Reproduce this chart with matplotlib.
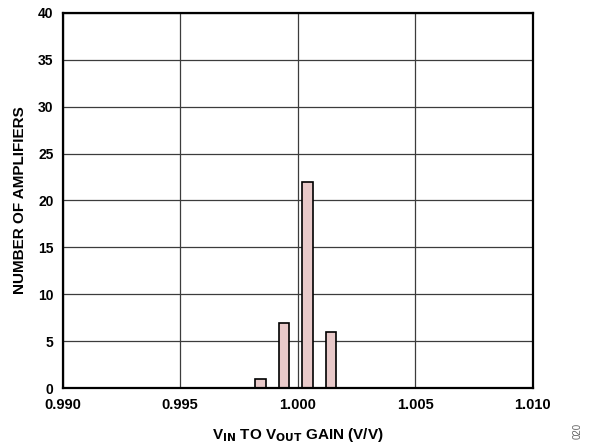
import numpy as np
import matplotlib
matplotlib.use("Agg")
import matplotlib.pyplot as plt

# histograma de ganancia V_IN -> V_OUT
centros = [0.99742, 0.99842, 0.99942, 1.00042, 1.00142]
cuentas = [0, 1, 7, 22, 6]
ancho = 0.00045

x_ticks = [0.990, 0.995, 1.000, 1.005, 1.010]
x_labels = ["0.990", "0.995", "1.000", "1.005", "1.010"]
y_ticks = [0, 5, 10, 15, 20, 25, 30, 35, 40]

plt.rcParams["font.family"] = ["Liberation Sans", "DejaVu Sans"]
plt.rcParams["font.weight"] = "bold"

fig = plt.figure(figsize=(5.91, 4.46), dpi=100)
ax = fig.add_axes([0.1061, 0.1294, 0.7953, 0.8421])

ax.bar(centros, cuentas, width=ancho, color="#e8c9c9", edgecolor="black",
       linewidth=1.2, zorder=3)

ax.set_xlim(0.990, 1.010)
ax.set_ylim(0, 40)
ax.set_xticks(x_ticks)
ax.set_xticklabels(x_labels)
ax.set_yticks(y_ticks)
ax.grid(True, color="#3c3c3c", linewidth=0.9, zorder=0)
ax.tick_params(axis="x", length=0, labelsize=10.5, pad=7)
ax.tick_params(axis="y", length=0, labelsize=10, pad=6.5)
for lab in ax.get_xticklabels() + ax.get_yticklabels():
    lab.set_fontweight("bold")
for s in ax.spines.values():
    s.set_linewidth(1.6)
    s.set_zorder(4)

ax.set_xlabel(r"V$_{\mathbf{IN}}$ TO V$_{\mathbf{OUT}}$ GAIN (V/V)", fontsize=11,
              fontweight="bold", labelpad=10)
ax.set_ylabel("NUMBER OF AMPLIFIERS", fontsize=11, fontweight="bold", labelpad=8)

fig.text(0.978, 0.015, "020", rotation=90, fontsize=7, color="#666666",
         fontweight="normal", ha="center", va="bottom")

plt.savefig("out.png", dpi=100)
